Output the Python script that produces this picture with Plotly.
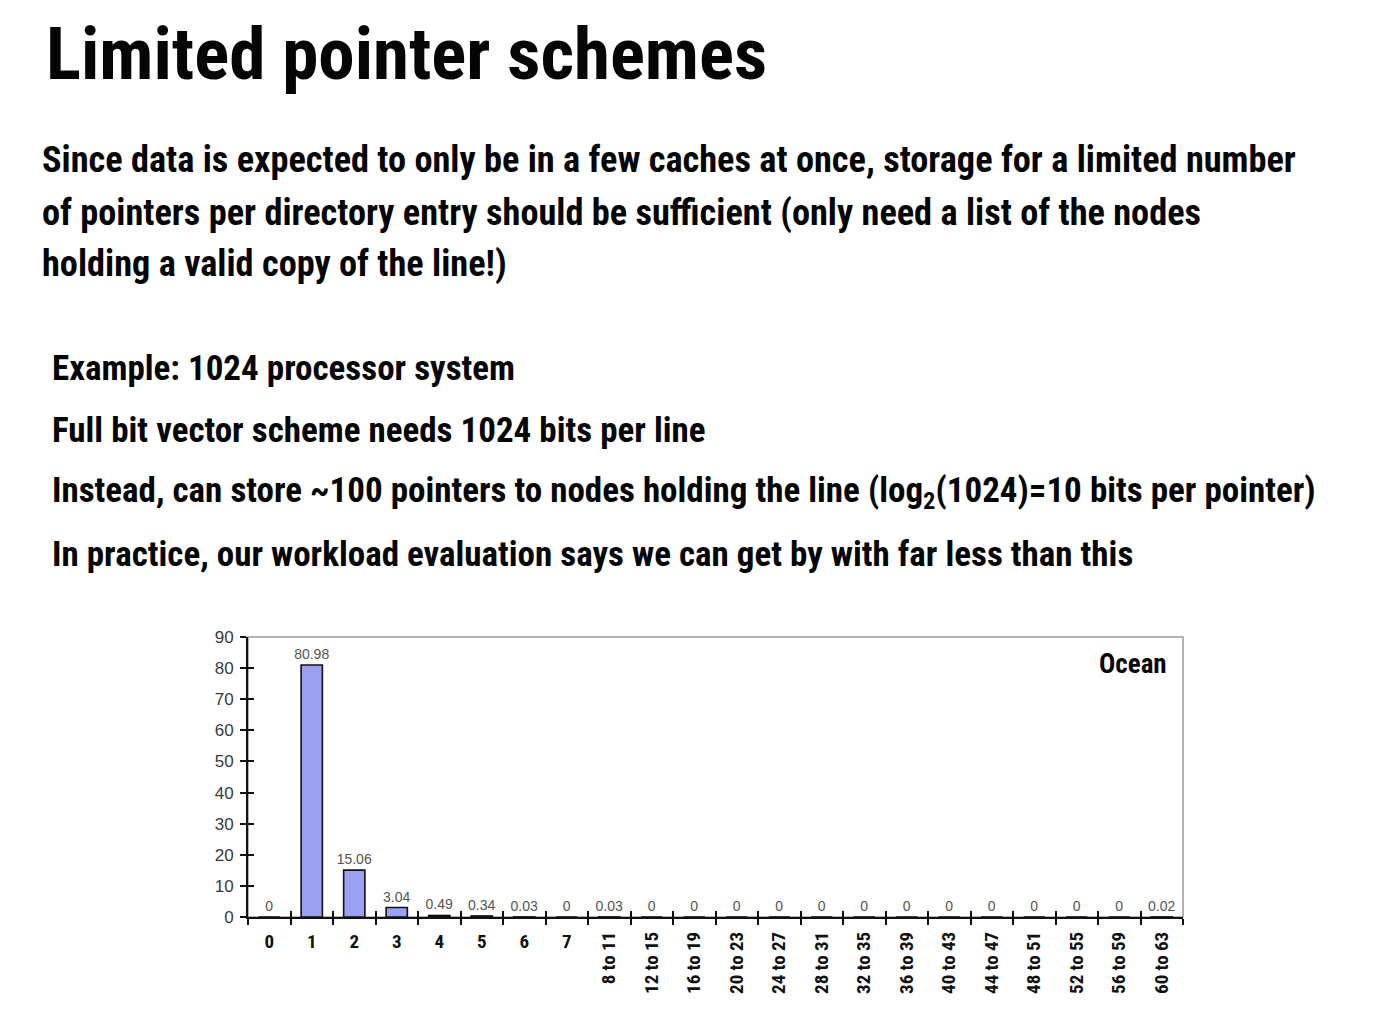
import plotly.graph_objects as go

# ---------------- data ----------------
categories = ["0", "1", "2", "3", "4", "5", "6", "7",
              "8 to 11", "12 to 15", "16 to 19", "20 to 23", "24 to 27",
              "28 to 31", "32 to 35", "36 to 39", "40 to 43", "44 to 47",
              "48 to 51", "52 to 55", "56 to 59", "60 to 63"]
values = [0, 80.98, 15.06, 3.04, 0.49, 0.34, 0.03, 0, 0.03,
          0, 0, 0, 0, 0, 0, 0, 0, 0, 0, 0, 0, 0.02]
y_ticks = [0, 10, 20, 30, 40, 50, 60, 70, 80, 90]

title_text = "Limited pointer schemes"
para_lines = [
    "Since data is expected to only be in a few caches at once, storage for a limited number",
    "of pointers per directory entry should be sufficient (only need a list of the nodes",
    "holding a valid copy of the line!)",
]
bullet_lines = [
    "Example: 1024 processor system",
    "Full bit vector scheme needs 1024 bits per line",
    "Instead, can store ~100 pointers to nodes holding the line (log<sub>2</sub>(1024)=10 bits per pointer)",
    "In practice, our workload evaluation says we can get by with far less than this",
]
chart_label = "Ocean"

# ---------------- layout geometry ----------------
W, H = 1384, 1020
L, R, T, B = 248, 1183, 637, 917   # plot area in pixels

def px(x):
    return (x - L) / (R - L)

def py(y):
    return (B - y) / (B - T)

COND = "Liberation Sans Narrow, Roboto Condensed, Arial Narrow, sans-serif"
ARIAL = "Liberation Sans, Arial, sans-serif"

digit_text = [c if " to " not in c else " " for c in categories]
range_text = [c if " to " in c else " " for c in categories]

fig = go.Figure()
fig.add_trace(go.Bar(
    x=categories, y=values,
    marker=dict(color="#9aa0f2", line=dict(color="#111111", width=1.6)),
    texttemplate="%{y}", textposition="outside", cliponaxis=False,
    constraintext="none",
    textfont=dict(family=ARIAL, size=14, color="#555555"),
    width=0.5, showlegend=False, hoverinfo="skip",
))
# helper traces so the overlay axes are drawn
fig.add_trace(go.Scatter(x=categories, y=[None] * len(categories), xaxis="x2", yaxis="y",
                         showlegend=False, hoverinfo="skip"))
fig.add_trace(go.Scatter(x=categories, y=[None] * len(categories), xaxis="x3", yaxis="y2",
                         showlegend=False, hoverinfo="skip"))

xr = [-0.5, len(categories) - 0.5]
common_x = dict(type="category", categoryorder="array", categoryarray=categories,
                range=xr, showgrid=False, zeroline=False, tickson="boundaries")

fig.update_layout(
    width=W, height=H,
    margin=dict(l=L, r=W - R, t=T, b=H - B),
    paper_bgcolor="white", plot_bgcolor="white",
    bargap=0.5,
    xaxis=dict(**common_x, showline=True, linecolor="#111111", linewidth=2,
               ticks="outside", ticklen=6, tickwidth=2, tickcolor="#111111",
               tickmode="array", tickvals=categories, ticktext=digit_text,
               tickangle=0, ticklabelstandoff=6,
               tickfont=dict(family=COND, size=19, color="#111111", weight="bold")),
    xaxis2=dict(**common_x, overlaying="x", side="bottom", showline=False,
                ticks="", tickmode="array", tickvals=categories, ticktext=range_text,
                tickangle=-90, ticklabelstandoff=10,
                tickfont=dict(family=COND, size=19, color="#111111", weight="bold")),
    xaxis3=dict(**common_x, overlaying="x", side="bottom", showline=False,
                ticks="inside", ticklen=6, tickwidth=2, tickcolor="#111111",
                showticklabels=False, tickmode="array", tickvals=categories),
    yaxis=dict(range=[0, 90], tickmode="array", tickvals=y_ticks,
               showgrid=False, zeroline=False,
               showline=True, linecolor="#111111", linewidth=2,
               ticks="outside", ticklen=6, tickwidth=2, tickcolor="#111111",
               ticklabelstandoff=3,
               tickfont=dict(family=ARIAL, size=17, color="#3a3a3a")),
    yaxis2=dict(range=[0, 90], tickmode="array", tickvals=y_ticks, overlaying="y",
                showgrid=False, zeroline=False, showline=False,
                ticks="inside", ticklen=6, tickwidth=2, tickcolor="#111111",
                showticklabels=False),
    shapes=[dict(type="rect", xref="paper", yref="paper", x0=0, x1=1, y0=0, y1=1,
                 line=dict(color="#9a9a9a", width=1.5), layer="below")],
)

ann = []
ann.append(dict(text=title_text, x=px(44), y=py(54), xref="paper", yref="paper",
                xanchor="left", yanchor="middle", showarrow=False,
                font=dict(family=COND, size=73, color="#050505", weight="bold")))
for i, line in enumerate(para_lines):
    ann.append(dict(text=line, x=px(40), y=py(160 + i * 52), xref="paper", yref="paper",
                    xanchor="left", yanchor="middle", showarrow=False,
                    font=dict(family=COND, size=36.3, color="#050505", weight="bold")))
for i, line in enumerate(bullet_lines):
    ann.append(dict(text=line, x=px(50), y=py(368 + i * 62), xref="paper", yref="paper",
                    xanchor="left", yanchor="middle", showarrow=False,
                    font=dict(family=COND, size=35, color="#050505", weight="bold")))
ann.append(dict(text=chart_label, x=px(1169), y=py(664), xref="paper", yref="paper",
                xanchor="right", yanchor="middle", showarrow=False,
                font=dict(family=COND, size=27, color="#050505", weight="bold")))
fig.update_layout(annotations=ann)

fig.write_html("out.html")
